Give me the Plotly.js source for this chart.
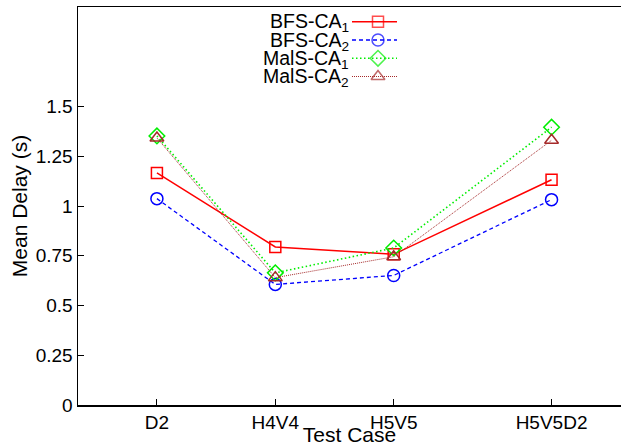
<!DOCTYPE html>
<html><head><meta charset="utf-8">
<script src="https://cdn.plot.ly/plotly-3.0.1.min.js"></script>
<style>html,body{margin:0;padding:0;background:#fff}#chart{width:621px;height:446px}</style>
</head><body><div id="chart"></div>
<script>
const categories = ['D2', 'H4V4', 'H5V5', 'H5V5D2'];
const xPositions = [3, 6, 9, 13];
const bfsCA1 = [1.166, 0.794, 0.757, 1.132];
const bfsCA2 = [1.037, 0.606, 0.651, 1.032];
const malsCA1 = [1.352, 0.664, 0.789, 1.396];
const malsCA2 = [1.342, 0.640, 0.745, 1.330];
const seriesNames = ['BFS-CA<sub>1</sub>', 'BFS-CA<sub>2</sub>', 'MalS-CA<sub>1</sub>', 'MalS-CA<sub>2</sub>'];
const yTickVals = [0, 0.25, 0.5, 0.75, 1, 1.25, 1.5];
const yTickText = ['0', '0.25', '0.5', '0.75', '1', '1.25', '1.5'];

const FONT = 'Liberation Sans, Arial, sans-serif';
const styles = [
  {color: '#ff0000', dash: 'solid', width: 1.5, symbol: 'square-open', size: 11},
  {color: '#0000ff', dash: '4px,3px', width: 1.3, symbol: 'circle-open', size: 12},
  {color: '#00ee00', dash: '1.5px,2.5px', width: 1.6, symbol: 'diamond-open', size: 12},
  {color: '#a52a2a', dash: '1px,1px', width: 1, symbol: 'triangle-up-open', size: 12}
];
const allSeries = [bfsCA1, bfsCA2, malsCA1, malsCA2];

const traces = [];
allSeries.forEach((ys, i) => {
  const s = styles[i];
  traces.push({
    x: xPositions, y: ys, type: 'scatter', mode: 'lines+markers', showlegend: false,
    line: {color: s.color, dash: s.dash, width: s.width},
    marker: {symbol: s.symbol, size: s.size, color: s.color, line: {width: 1.5, color: s.color}}
  });
});

// custom legend (text left of sample, gnuplot style)
const L = 78, R = 621, T = 7, B = 405;
const px = v => (v - L) / (R - L);
const py = v => (B - v) / (B - T);
const rowY = [21.7, 40, 58.3, 76.5];
const annotations = [];
seriesNames.forEach((name, i) => {
  const s = styles[i];
  const yy = py(rowY[i]);
  traces.push({
    x: [px(352), px(378), px(397)], y: [yy, yy, yy], xaxis: 'x2', yaxis: 'y2',
    type: 'scatter', mode: 'lines+markers', showlegend: false, hoverinfo: 'skip',
    line: {color: s.color, dash: s.dash, width: s.width},
    marker: {symbol: s.symbol, size: [0, s.size, 0], color: s.color, line: {width: 1.5, color: s.color}}
  });
  annotations.push({
    xref: 'paper', yref: 'paper', x: px(351), y: py(rowY[i] + 1), xanchor: 'right', yanchor: 'middle',
    text: name, showarrow: false, font: {family: FONT, size: 19.5, color: '#000'}
  });
});

const layout = {
  width: 621, height: 446,
  margin: {l: L, r: 0, t: T, b: 446 - B},
  paper_bgcolor: '#fff', plot_bgcolor: '#fff',
  font: {family: FONT, size: 19, color: '#000'},
  showlegend: false,
  xaxis: {
    range: [1, 14.76], tickvals: xPositions, ticktext: categories,
    ticks: 'inside', ticklen: 6, tickwidth: 1, tickcolor: '#000',
    showgrid: false, zeroline: false, showline: true, linecolor: '#000', linewidth: 1.5, mirror: true,
    tickfont: {family: FONT, size: 19, color: '#000'},
    title: {text: 'Test Case', font: {family: FONT, size: 21, color: '#000'}, standoff: 0}
  },
  yaxis: {
    range: [0, 2], tickvals: yTickVals, ticktext: yTickText,
    ticks: 'inside', ticklen: 6, tickwidth: 1, tickcolor: '#000',
    showgrid: false, zeroline: false, showline: true, linecolor: '#000', linewidth: 1.5,
    tickfont: {family: FONT, size: 19, color: '#000'},
    title: {text: 'Mean Delay (s)', font: {family: FONT, size: 21, color: '#000'}, standoff: 2}
  },
  xaxis2: {overlaying: 'x', range: [0, 1], visible: false, fixedrange: true},
  yaxis2: {overlaying: 'y', range: [0, 1], visible: false, fixedrange: true},
  annotations: annotations
};

Plotly.newPlot('chart', traces, layout, {displayModeBar: false, staticPlot: true});
</script>
</body></html>
